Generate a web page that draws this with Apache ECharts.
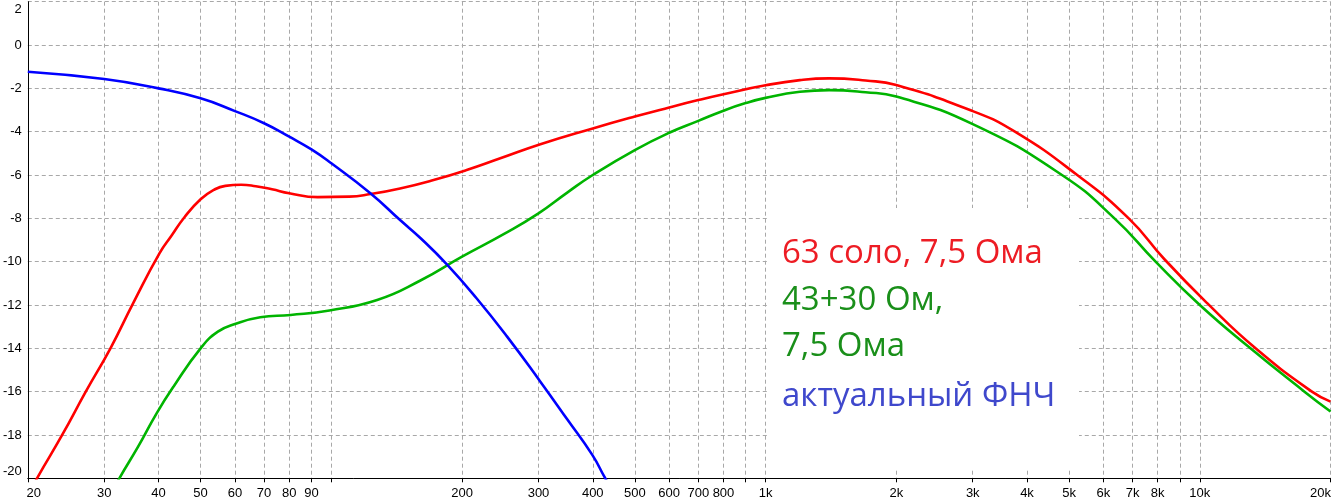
<!DOCTYPE html>
<html>
<head>
<meta charset="utf-8">
<script src="https://cdn.jsdelivr.net/npm/echarts@6/dist/echarts.min.js"></script>
<style>
html,body{margin:0;padding:0;background:#fff;}
#chart{width:1334px;height:503px;}
</style>
</head>
<body>
<div id="chart"></div>
<script>
// Frequencies (Hz) and levels (dB)
const redFreq = [20, 21, 24, 27.2, 31, 35, 40.2, 42.8, 45.9, 50, 53.6, 57, 62, 67, 73, 80, 93, 110, 123, 144, 172, 205, 245, 303, 400, 500, 600, 700, 800, 1000, 1200, 1400, 1700, 2000, 3000, 3752, 5220, 6860, 8300, 10440, 13440, 18120, 20000];
const redDb   = [-20.8, -20.0, -18.0, -16.0, -14.0, -11.9, -9.62, -8.82, -7.95, -7.12, -6.69, -6.5, -6.45, -6.52, -6.66, -6.84, -7.02, -7.0, -6.88, -6.62, -6.23, -5.77, -5.23, -4.58, -3.85, -3.3, -2.88, -2.54, -2.27, -1.86, -1.62, -1.54, -1.64, -1.85, -3.05, -4.0, -6.0, -8.0, -9.9, -11.95, -14.0, -16.0, -16.46];

const greenFreq = [31, 32.5, 35.9, 39.6, 43.3, 50, 54.8, 60, 68.6, 80.6, 99, 127.5, 160, 200, 250, 300, 350, 400, 500, 600, 700, 800, 900, 1000, 1200, 1400, 1700, 2000, 3000, 4814, 6360, 7910, 10000, 13080, 17420, 20000];
const greenDb   = [-20.8, -20.0, -18.54, -17.0, -15.77, -14.0, -13.23, -12.88, -12.57, -12.46, -12.25, -11.77, -10.88, -9.77, -8.72, -7.77, -6.8, -6.0, -4.85, -4.05, -3.5, -3.03, -2.68, -2.44, -2.16, -2.08, -2.18, -2.38, -3.65, -6.0, -8.0, -10.0, -12.0, -14.0, -16.0, -16.92];

const blueFreq = [20, 30, 40, 50, 60, 70, 80, 90, 100, 123, 144, 160.6, 185, 216, 254, 303, 350, 399, 426, 445];
const blueDb   = [-1.23, -1.57, -2.0, -2.46, -3.05, -3.61, -4.23, -4.82, -5.46, -6.84, -8.08, -8.92, -10.15, -11.69, -13.46, -15.54, -17.3, -18.92, -19.95, -20.6];

const gridFreqs = [20,30,40,50,60,70,80,90,100,200,300,400,500,600,700,800,900,1000,2000,3000,4000,5000,6000,7000,8000,9000,10000,20000];
const labelFreqs = [20,30,40,50,60,70,80,90,200,300,400,500,600,700,800,1000,2000,3000,4000,5000,6000,7000,8000,10000,20000];

const seriesNames = ['63 соло, 7,5 Ома', '43+30 Ом, 7,5 Ома', 'актуальный ФНЧ'];
const legendLines = ['63 соло, 7,5 Ома', '43+30 Ом,', '7,5 Ома', 'актуальный ФНЧ'];

const lg = Math.log10;
function pts(fs, ds) { return fs.map((f, i) => [lg(f), ds[i]]); }

const labelFont = { fontFamily: 'Liberation Sans', fontSize: 13, color: '#000' };

const chart = echarts.init(document.getElementById('chart'), null, { renderer: 'canvas' });
chart.setOption({
  animation: false,
  backgroundColor: '#fff',
  grid: { left: 27, right: 3.3, top: 1.7, bottom: 24.7, containLabel: false },
  xAxis: {
    type: 'value',
    min: lg(20), max: lg(20000),
    axisLine: { show: true, onZero: false, lineStyle: { color: '#000', width: 1 } },
    axisTick: { show: true, length: 4, customValues: gridFreqs.map(lg), lineStyle: { color: '#000' } },
    splitLine: { show: true, lineStyle: { color: '#a8a8a8', type: [4, 3], width: 1 } },
    axisLabel: {
      customValues: labelFreqs.map(lg),
      margin: 9,
      ...labelFont,
      formatter: function (v) {
        const f = Math.round(Math.pow(10, v));
        const t = f >= 1000 ? (f / 1000) + 'k' : String(f);
        if (f === 20) return '{l|' + t + '}';
        if (f === 20000) return '{r|' + t + '}';
        return t;
      },
      rich: {
        l: { ...labelFont, padding: [0, 0, 0, 12] },
        r: { ...labelFont, padding: [0, 20, 0, 0] }
      }
    }
  },
  yAxis: {
    type: 'value',
    min: -20, max: 2, interval: 2,
    axisLine: { show: true, onZero: false, lineStyle: { color: '#000', width: 1 } },
    axisTick: { show: false },
    splitLine: { show: true, lineStyle: { color: '#a8a8a8', type: [4, 3], width: 1 } },
    axisLabel: {
      margin: 6,
      ...labelFont,
      formatter: function (v) {
        if (v === 2) return '{t|2}';
        if (v === -20) return '{b|-20}';
        return String(v);
      },
      rich: {
        t: { ...labelFont, padding: [16, 0, 0, 0] },
        b: { ...labelFont, padding: [0, 0, 14, 0] }
      }
    }
  },
  series: [
    { name: seriesNames[0], type: 'line', data: pts(redFreq, redDb), smooth: 0.5, showSymbol: false,
      lineStyle: { color: '#ff0000', width: 2.6 }, itemStyle: { color: '#ff0000' }, z: 4 },
    { name: seriesNames[1], type: 'line', data: pts(greenFreq, greenDb), smooth: 0.5, showSymbol: false,
      lineStyle: { color: '#00b400', width: 2.6 }, itemStyle: { color: '#00b400' }, z: 3 },
    { name: seriesNames[2], type: 'line', data: pts(blueFreq, blueDb), smooth: 0.5, showSymbol: false,
      lineStyle: { color: '#0000ff', width: 2.6 }, itemStyle: { color: '#0000ff' }, z: 5 }
  ],
  graphic: [
    { type: 'rect', z: 1, shape: { x: 767, y: 208, width: 312, height: 261 }, style: { fill: '#fff' }, silent: true },
    { type: 'text', z: 10, left: 782, top: 237, style: { text: legendLines[0], fill: '#ed1c24', font: '33px "Open Sans"' } },
    { type: 'text', z: 10, left: 782, top: 284, style: { text: legendLines[1], fill: '#1a8f1a', font: '33px "Open Sans"' } },
    { type: 'text', z: 10, left: 782, top: 330, style: { text: legendLines[2], fill: '#1a8f1a', font: '33px "Open Sans"' } },
    { type: 'text', z: 10, left: 782, top: 380, style: { text: legendLines[3], fill: '#3f48cc', font: '33px "Open Sans"' } }
  ]
});
</script>
</body>
</html>
